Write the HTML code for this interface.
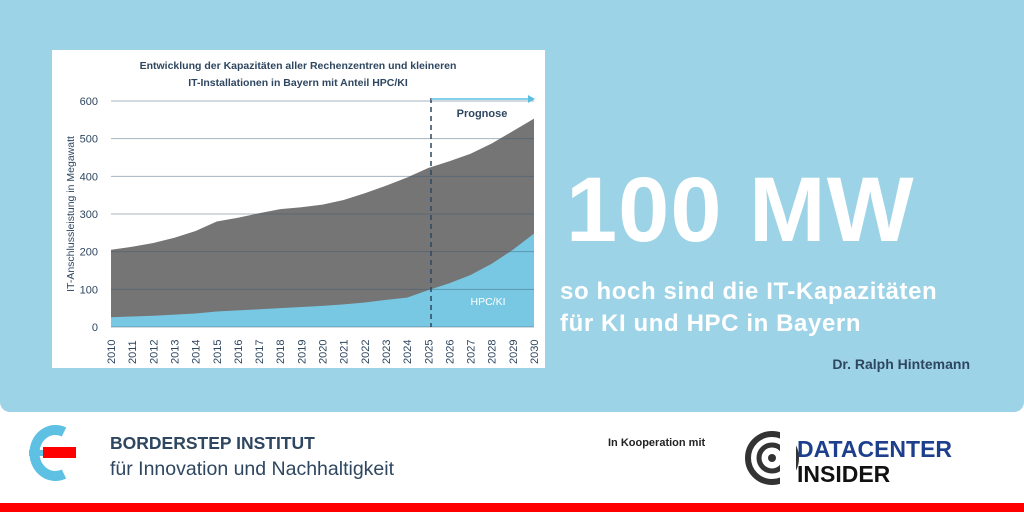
<!DOCTYPE html>
<html><head><meta charset="utf-8"><style>
body{margin:0;width:1024px;height:512px;overflow:hidden;background:#fff;font-family:"Liberation Sans",sans-serif;position:relative}
#bg{position:absolute;left:0;top:0;width:1024px;height:412px;background:#9dd3e6;border-radius:0 0 10px 10px}
#red{position:absolute;left:0;top:503px;width:1024px;height:9px;background:#f00}
.t{position:absolute;color:#fff;font-weight:bold;white-space:nowrap}
</style></head><body>
<div id="bg"></div>
<svg width="1024" height="512" style="position:absolute;left:0;top:0" id="s">
<rect x="52" y="50" width="493" height="318" fill="#fff"/>
<text x="298" y="69" text-anchor="middle" font-size="10.5" font-weight="bold" fill="#2e4660">Entwicklung der Kapazitäten aller Rechenzentren und kleineren</text>
<text x="298" y="86" text-anchor="middle" font-size="10.5" font-weight="bold" fill="#2e4660">IT-Installationen in Bayern mit Anteil HPC/KI</text>
<polygon id="tot" fill="#757575"/>
<polygon id="hpc" fill="#78c8e3"/>
<g id="grid2"></g>
<line x1="431" y1="98" x2="431" y2="327" stroke="#2e4660" stroke-width="1.5" stroke-dasharray="5,4"/>
<line x1="431" y1="99" x2="528" y2="99" stroke="#5bc0e0" stroke-width="1.5"/>
<polygon points="528,95 535,99 528,103" fill="#5bc0e0"/>
<text x="482" y="117" text-anchor="middle" font-size="11" font-weight="bold" fill="#2e4660">Prognose</text>
<text x="488" y="305" text-anchor="middle" font-size="10.5" fill="#fff">HPC/KI</text>
<text transform="translate(74,214) rotate(-90)" text-anchor="middle" font-size="10.5" fill="#2e4660">IT-Anschlussleistung in Megawatt</text>
<g id="lab" font-size="11" fill="#2e4660"></g>
</svg>
<div class="t" style="left:566px;top:158px;font-size:92px;letter-spacing:1px">100 MW</div>
<div class="t" style="left:560px;top:276px;font-size:24px;line-height:32px;letter-spacing:0.6px">so hoch sind die IT-Kapazitäten<br>für KI und HPC in Bayern</div>
<div class="t" style="right:54px;top:356px;font-size:14px;color:#2e4660">Dr. Ralph Hintemann</div>
<svg width="1024" height="100" style="position:absolute;left:0;top:412px">
<path d="M64,20 A21,23 0 1 0 64,62" fill="none" stroke="#5ec0e3" stroke-width="10"/>
<rect x="29" y="38" width="18" height="6" fill="#5ec0e3"/>
<rect x="43" y="35" width="33" height="11" fill="#f00"/>
<text x="110" y="37" font-size="17.5" font-weight="bold" fill="#2e4660">BORDERSTEP INSTITUT</text>
<text x="110" y="63" font-size="19.5" fill="#2e4660">für Innovation und Nachhaltigkeit</text>
<text x="608" y="34" font-size="11" font-weight="bold" fill="#222">In Kooperation mit</text>
<circle cx="772" cy="46" r="24" fill="none" stroke="#333" stroke-width="6"/>
<circle cx="772" cy="46" r="13" fill="none" stroke="#333" stroke-width="5"/>
<circle cx="772" cy="46" r="4" fill="#333"/>
<rect x="780" y="14" width="16" height="64" fill="#fff"/>
<text x="797" y="45" font-size="23" font-weight="bold" fill="#1e3f8c">DATACENTER</text>
<text x="797" y="70" font-size="23" font-weight="bold" fill="#111">INSIDER</text>
</svg>
<div id="red"></div>
<script>
var tot=[205,213,223,237,255,280,290,302,313,318,325,337,355,375,397,422,440,460,487,520,553];
var h=[26,28,30,33,36,41,44,47,50,53,56,60,65,72,78,98,116,138,168,205,248];
function X(i){return 111+i*21.15}function Y(v){return 327-v*0.3767}
function pts(a){var p=X(0)+","+Y(0);a.forEach(function(v,i){p+=" "+X(i)+","+Y(v)});return p+" "+X(20)+","+Y(0)}
document.getElementById('tot').setAttribute('points',pts(tot));
document.getElementById('hpc').setAttribute('points',pts(h));
var ns="http://www.w3.org/2000/svg",g=document.getElementById('grid2'),L=document.getElementById('lab');
for(var k=0;k<=6;k++){var y=Y(k*100);var l=document.createElementNS(ns,'line');
l.setAttribute('x1',111);l.setAttribute('x2',534);l.setAttribute('y1',y);l.setAttribute('y2',y);
l.setAttribute('stroke','#3a5a70');l.setAttribute('stroke-opacity','0.45');g.appendChild(l);
var t=document.createElementNS(ns,'text');t.setAttribute('x',98);t.setAttribute('y',y+4);t.setAttribute('text-anchor','end');t.textContent=k*100;L.appendChild(t);}
for(var i=0;i<=20;i++){var t=document.createElementNS(ns,'text');t.setAttribute('transform','translate('+(X(i)+4)+',364) rotate(-90)');t.textContent=2010+i;L.appendChild(t);}
</script>
</body></html>
